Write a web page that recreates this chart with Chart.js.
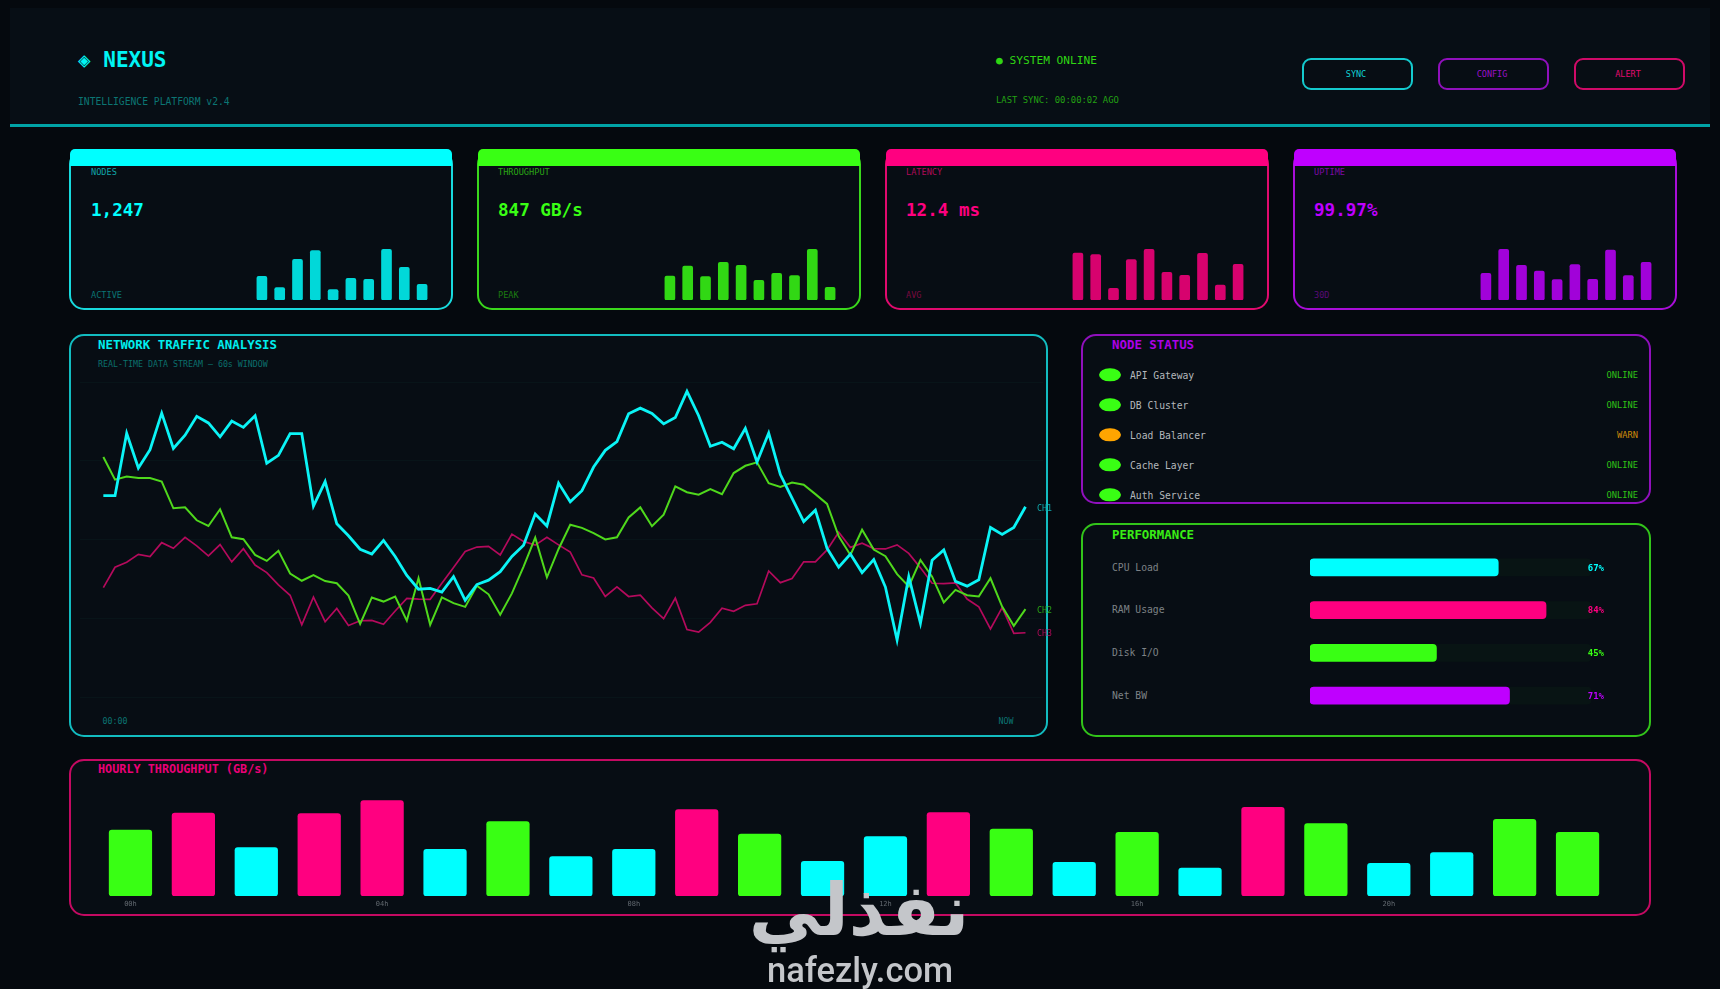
<!DOCTYPE html>
<html>
<head>
<meta charset="utf-8">
<title>NEXUS</title>
<script src="https://cdn.jsdelivr.net/npm/chart.js@4"></script>
<style>
    html, body { margin: 0; padding: 0; width: 1720px; height: 989px; overflow: hidden; background: #05090e; }
    body { position: relative; font-family: "DejaVu Sans Mono", monospace; }
    .box { position: absolute; box-sizing: border-box; background: #070d14; border: 2px solid; border-radius: 15px; }
    .t { position: absolute; white-space: pre; transform: translateY(-50%); line-height: 1; }
    .r { transform: translate(-100%, -50%); }
    .c { transform: translate(-50%, -50%); }
    .b { font-weight: bold; }
    .band { position: absolute; left: -1px; right: -1px; top: -2px; height: 17px; border-radius: 5px 5px 0 0; }
    .dot { position: absolute; width: 22px; height: 13.4px; border-radius: 50%; transform: translate(-50%, -50%); }
    canvas { position: absolute; }
</style>
</head>
<body>

<div style="position:absolute;left:10px;top:8px;width:1700px;height:117px;background:#070e15"></div>
<div style="position:absolute;left:10px;top:124px;width:1700px;height:3px;background:#00a3a6"></div>

<div class="t b" style="left:78px;top:60px;font-size:21px;color:#00f4f4">◈ NEXUS</div>
<div class="t" style="left:78px;top:102px;font-size:9.7px;color:#0b7573">INTELLIGENCE PLATFORM v2.4</div>
<div class="t" style="left:996px;top:61px;font-size:11.2px;color:#2fd613">● SYSTEM ONLINE</div>
<div class="t" style="left:996px;top:100px;font-size:8.9px;color:#23a113">LAST SYNC: 00:00:02 AGO</div>

<div id="buttons"></div>
<div id="cards"></div>

<div class="box" style="left:69px;top:334px;width:979px;height:403px;border-color:#12bcc0"></div>
<div class="t b" style="left:98px;top:345px;font-size:12.4px;color:#00eeee">NETWORK TRAFFIC ANALYSIS</div>
<div class="t" style="left:98px;top:364px;font-size:8.3px;color:#0b6f6c">REAL-TIME DATA STREAM — 60s WINDOW</div>
<canvas id="trafficChart" width="963" height="319" style="left:80px;top:380px"></canvas>
<div class="t c" style="left:115px;top:721px;font-size:8.3px;color:#0b7573">00:00</div>
<div class="t c" style="left:1006px;top:721px;font-size:8.3px;color:#0b7573">NOW</div>
<div id="channelLabels"></div>

<div class="box" style="left:1081px;top:334px;width:570px;height:170px;border-color:#9010bc"></div>
<div class="t b" style="left:1112px;top:345px;font-size:12.4px;color:#ac00e6">NODE STATUS</div>
<div id="nodeRows"></div>

<div class="box" style="left:1081px;top:523px;width:570px;height:214px;border-color:#32c41a"></div>
<div class="t b" style="left:1112px;top:535px;font-size:12.4px;color:#39ee14">PERFORMANCE</div>
<canvas id="perfChart" width="281" height="171" style="left:1310px;top:546px"></canvas>
<div id="perfLabels"></div>

<div class="box" style="left:69px;top:759px;width:1582px;height:157px;border-color:#c40a62"></div>
<div class="t b" style="left:98px;top:770px;font-size:11.8px;color:#ea0076">HOURLY THROUGHPUT (GB/s)</div>
<canvas id="hourlyChart" width="1510" height="114" style="left:99px;top:796px"></canvas>

<div class="t c b" style="left:859px;top:910px;font-size:72px;font-family:'DejaVu Sans';color:#c4c6ca">نفذلي</div>
<div class="t c" style="left:860px;top:970px;font-size:34.5px;font-weight:500;font-family:Roboto;color:#c4c6ca">nafezly.com</div>

<script>
// --- DATA ---
const CYAN = '#00ffff';
const GREEN = '#39ff14';
const PINK = '#ff0080';
const PURPLE = '#bf00ff';

const buttonLabels = ['SYNC', 'CONFIG', 'ALERT'];

const cardTitles = ['NODES', 'THROUGHPUT', 'LATENCY', 'UPTIME'];
const cardValues = ['1,247', '847 GB/s', '12.4 ms', '99.97%'];
const cardNotes = ['ACTIVE', 'PEAK', 'AVG', '30D'];

const nodesSpark = [23.7, 12.3, 40.7, 49.3, 10.3, 21.7, 20.7, 50.7, 32.7, 15.7];
const throughputSpark = [24, 34, 23.3, 37.7, 34.7, 19.7, 26.7, 24.3, 50.7, 12.7];
const latencySpark = [47, 45.3, 11.7, 40.3, 50.7, 27.7, 24.7, 46.7, 15, 35.7];
const uptimeSpark = [26.7, 50.7, 34.7, 29, 20.3, 35.3, 20.7, 50, 24.3, 37.7];

const ch1 = [
    63.9, 63.9, 83.7, 72.7, 78.5, 90.1, 78.9, 83.1, 89.1, 87.0,
    82.6, 87.6, 85.6, 89.3, 74.2, 76.7, 83.6, 83.6, 60.6, 68.4,
    55.0, 51.2, 46.9, 45.4, 49.7, 44.6, 38.6, 34.2, 34.5, 33.3,
    38.2, 30.7, 35.7, 37.1, 39.8, 44.6, 48.2, 58.1, 54.3, 67.9,
    62.0, 65.5, 73.0, 78.3, 81.1, 89.9, 91.7, 90.0, 86.7, 88.7,
    97.0, 89.3, 79.6, 80.9, 78.8, 85.3, 74.6, 83.8, 70.6, 63.1,
    55.7, 59.3, 47.2, 41.2, 45.4, 39.5, 43.6, 34.9, 18.1, 38.2,
    23.4, 43.4, 46.7, 36.7, 35.2, 37.2, 53.8, 51.6, 53.8, 60.4
];
const ch2 = [
    76.2, 69.0, 70.0, 69.5, 69.5, 68.4, 59.9, 60.2, 56.1, 54.3,
    59.6, 50.7, 50.1, 45.1, 43.2, 46.4, 39.2, 36.9, 38.7, 36.8,
    36.1, 32.2, 23.2, 31.6, 30.3, 31.9, 24.2, 37.7, 22.9, 31.6,
    29.8, 28.6, 35.3, 32.6, 26.1, 32.9, 41.4, 50.6, 38.0, 47.0,
    54.7, 53.7, 52.0, 50.0, 50.7, 57.0, 60.2, 54.2, 57.9, 66.9,
    65.0, 64.2, 66.0, 64.4, 71.1, 73.4, 74.5, 67.9, 66.7, 68.1,
    67.4, 64.4, 61.3, 51.0, 45.1, 53.1, 46.8, 44.7, 39.0, 35.1,
    43.5, 38.2, 30.0, 34.0, 32.3, 31.9, 37.7, 28.7, 22.6, 27.9
];
const ch3 = [
    34.7, 41.2, 42.8, 45.3, 44.6, 49.0, 47.2, 50.7, 48.0, 44.8,
    48.4, 42.9, 47.1, 41.9, 39.5, 35.6, 32.3, 22.9, 31.7, 23.9,
    28.1, 22.7, 24.2, 24.3, 23.1, 27.3, 31.3, 31.1, 31.0, 36.1,
    41.1, 46.2, 47.6, 47.8, 45.1, 51.7, 49.4, 48.2, 50.7, 48.3,
    46.0, 38.8, 37.8, 31.9, 35.0, 31.9, 32.3, 28.3, 24.9, 31.4,
    21.4, 20.6, 23.7, 28.2, 27.2, 29.1, 29.6, 40.0, 36.3, 37.6,
    42.9, 42.9, 46.7, 52.3, 47.5, 48.8, 47.1, 47.0, 48.3, 45.6,
    41.0, 36.1, 36.0, 36.2, 31.1, 28.6, 21.6, 28.4, 20.2, 20.4
];

const nodeNames = ['API Gateway', 'DB Cluster', 'Load Balancer', 'Cache Layer', 'Auth Service'];
const nodeStates = ['ONLINE', 'ONLINE', 'WARN', 'ONLINE', 'ONLINE'];

const perfNames = ['CPU Load', 'RAM Usage', 'Disk I/O', 'Net BW'];
const perfValues = [67, 84, 45, 71];

const hourLabels = ['00h', '01h', '02h', '03h', '04h', '05h', '06h', '07h', '08h', '09h', '10h', '11h',
    '12h', '13h', '14h', '15h', '16h', '17h', '18h', '19h', '20h', '21h', '22h', '23h'];
const hourlyValues = [66, 83, 48.3, 82.3, 95.3, 46.7, 74.3, 39.3, 46.7, 86.3, 62, 34.7,
    59.3, 83.3, 67, 33.7, 63.7, 28, 88.7, 72.3, 32.7, 43.3, 76.7, 63.7];

// --- STATIC TEXT ---
function addText(parent, text, css, cls) {
    const el = document.createElement('div');
    el.className = 't ' + (cls || '');
    el.style.cssText = css;
    el.textContent = text;
    parent.appendChild(el);
    return el;
}

function buildButtons() {
    const host = document.getElementById('buttons');
    const lefts = [1302, 1438, 1574];
    const borders = ['#14cace', '#9010bc', '#d00a68'];
    const colors = ['#10d0d4', '#9a10c8', '#e00a6e'];
    buttonLabels.forEach((label, i) => {
        const b = document.createElement('div');
        b.className = 'box';
        b.style.cssText = `left:${lefts[i]}px;top:58px;width:111px;height:32px;border-radius:9px;border-color:${borders[i]}`;
        host.appendChild(b);
        addText(host, label, `left:${lefts[i] + 54}px;top:74px;font-size:8.5px;color:${colors[i]}`, 'c');
    });
}

const cardLefts = [69, 477, 885, 1293];
const cardColors = [CYAN, GREEN, PINK, PURPLE];
const cardBorders = ['#18dade', '#3ad81c', '#e00a6e', '#a80ed8'];
const cardLabelColors = ['#10a6aa', '#2aa514', '#b00a58', '#7c0aa6'];
const cardNoteColors = ['#0b7573', '#1c7a10', '#780a40', '#5a0a78'];

function buildCards() {
    const host = document.getElementById('cards');
    cardTitles.forEach((title, i) => {
        const left = cardLefts[i];
        const textLeft = left + (i === 0 ? 22 : 21);
        const card = document.createElement('div');
        card.className = 'box';
        card.style.cssText = `left:${left}px;top:149px;width:384px;height:161px;border-color:${cardBorders[i]}`;
        const band = document.createElement('div');
        band.className = 'band';
        band.style.background = cardColors[i];
        card.appendChild(band);
        host.appendChild(card);
        addText(host, title, `left:${textLeft}px;top:172px;font-size:8.6px;color:${cardLabelColors[i]}`);
        addText(host, cardValues[i], `left:${textLeft}px;top:211px;font-size:17.6px;color:${cardColors[i]}`, 'b');
        addText(host, cardNotes[i], `left:${textLeft}px;top:295px;font-size:8.6px;color:${cardNoteColors[i]}`);
        const canvas = document.createElement('canvas');
        canvas.id = 'spark' + i;
        canvas.width = 178;
        canvas.height = 52;
        canvas.style.cssText = `left:${left + 184}px;top:248px`;
        host.appendChild(canvas);
    });
}

function buildChannelLabels() {
    const host = document.getElementById('channelLabels');
    addText(host, 'CH1', 'left:1037px;top:508px;font-size:8.3px;color:#10a6aa');
    addText(host, 'CH2', 'left:1037px;top:610px;font-size:8.3px;color:#2aa514');
    addText(host, 'CH3', 'left:1037px;top:633px;font-size:8.3px;color:#b00a58');
}

function buildNodeRows() {
    const host = document.getElementById('nodeRows');
    nodeNames.forEach((name, i) => {
        const y = 375 + i * 30;
        const warn = nodeStates[i] === 'WARN';
        const dot = document.createElement('div');
        dot.className = 'dot';
        dot.style.cssText = `left:1110px;top:${y}px;background:${warn ? '#ffa500' : GREEN}`;
        host.appendChild(dot);
        addText(host, name, `left:1130px;top:${y + 1}px;font-size:9.7px;color:#b4b8bc`);
        addText(host, nodeStates[i], `left:1638px;top:${y}px;font-size:8.7px;color:${warn ? '#cc8a0a' : '#2fc216'}`, 'r');
    });
}

const perfColors = [CYAN, PINK, GREEN, PURPLE];

function buildPerfLabels() {
    const host = document.getElementById('perfLabels');
    perfNames.forEach((name, i) => {
        const y = 567.6 + i * 42.8;
        addText(host, name, `left:1112px;top:${y}px;font-size:9.7px;color:#7d8286`);
        addText(host, perfValues[i] + '%', `left:1604px;top:${y}px;font-size:9px;color:${perfColors[i]}`, 'r b');
    });
}

// --- CHARTS ---
Chart.defaults.animation = false;
Chart.defaults.font.family = '"DejaVu Sans Mono", monospace';

const noLegend = { legend: { display: false }, tooltip: { enabled: false } };

function initSparks() {
    const series = [nodesSpark, throughputSpark, latencySpark, uptimeSpark];
    const fills = ['rgba(0,255,255,0.84)', 'rgba(57,255,20,0.84)', 'rgba(255,0,128,0.84)', 'rgba(191,0,255,0.84)'];
    series.forEach((values, i) => {
        new Chart(document.getElementById('spark' + i).getContext('2d'), {
            type: 'bar',
            data: {
                labels: values.map((v, n) => n),
                datasets: [{ data: values, backgroundColor: fills[i], barThickness: 10, borderRadius: 2, borderSkipped: false }]
            },
            options: {
                responsive: false,
                plugins: noLegend,
                scales: {
                    x: { display: false },
                    y: { display: false, min: 0, max: 52 }
                }
            }
        });
    });
}

function initTraffic() {
    const asPoints = (values) => values.map((v, i) => ({ x: i, y: v }));
    new Chart(document.getElementById('trafficChart').getContext('2d'), {
        type: 'line',
        data: {
            datasets: [
                { data: asPoints(ch1), borderColor: '#0bf4f6', borderWidth: 2.8, pointRadius: 0, tension: 0 },
                { data: asPoints(ch2), borderColor: '#4fd81c', borderWidth: 2, pointRadius: 0, tension: 0 },
                { data: asPoints(ch3), borderColor: '#b40a5c', borderWidth: 1.7, pointRadius: 0, tension: 0 }
            ]
        },
        options: {
            responsive: false,
            layout: { padding: { top: 2, bottom: 2 } },
            plugins: noLegend,
            scales: {
                x: { type: 'linear', display: false, min: -2, max: 80.5 },
                y: {
                    min: 0,
                    max: 100,
                    border: { display: false },
                    ticks: { display: false, stepSize: 25 },
                    grid: { color: 'rgba(60,255,200,0.03)', drawTicks: false }
                }
            }
        }
    });
}

function initPerf() {
    new Chart(document.getElementById('perfChart').getContext('2d'), {
        type: 'bar',
        data: {
            labels: perfNames,
            datasets: [
                { data: perfValues, backgroundColor: perfColors, barThickness: 17, borderRadius: 4, borderSkipped: false, grouped: false },
                { data: perfNames.map(() => 100), backgroundColor: 'rgba(57,255,20,0.03)', barThickness: 17, borderRadius: 4, borderSkipped: false, grouped: false }
            ]
        },
        options: {
            responsive: false,
            indexAxis: 'y',
            plugins: noLegend,
            scales: {
                x: { display: false, min: 0, max: 100 },
                y: { display: false }
            }
        }
    });
}

function hourColor(value) {
    if (value < 60) return CYAN;
    if (value < 80) return GREEN;
    return PINK;
}

function initHourly() {
    new Chart(document.getElementById('hourlyChart').getContext('2d'), {
        type: 'bar',
        data: {
            labels: hourLabels,
            datasets: [{
                data: hourlyValues,
                backgroundColor: hourlyValues.map(hourColor),
                barThickness: 42.6,
                borderRadius: 3,
                borderSkipped: false
            }]
        },
        options: {
            responsive: false,
            plugins: noLegend,
            scales: {
                x: {
                    afterFit: (scale) => { scale.height = 14; },
                    border: { display: false },
                    grid: { display: false, drawTicks: false },
                    ticks: {
                        autoSkip: false,
                        maxRotation: 0,
                        padding: 4,
                        color: '#626970',
                        font: { size: 7 },
                        callback: (value, index) => (index % 4 === 0 ? hourLabels[index] : '')
                    }
                },
                y: { display: false, min: 0, max: 100 }
            }
        }
    });
}

// Initialize
buildButtons();
buildCards();
buildChannelLabels();
buildNodeRows();
buildPerfLabels();
initSparks();
initTraffic();
initPerf();
initHourly();
</script>
</body>
</html>
